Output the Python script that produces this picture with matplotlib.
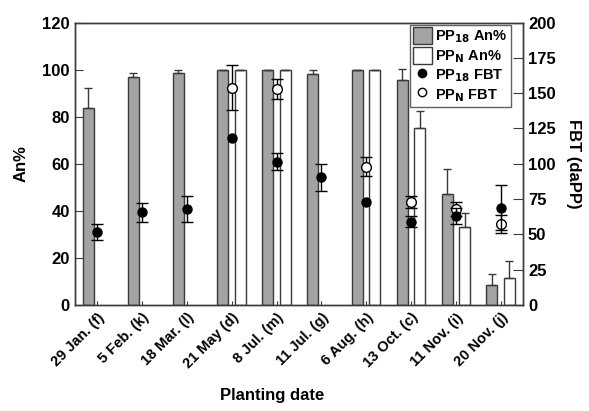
import numpy as np
import matplotlib
matplotlib.use("Agg")
import matplotlib.pyplot as plt
from matplotlib.lines import Line2D
from matplotlib.patches import Patch

plt.rcParams['font.family'] = ['Liberation Sans', 'DejaVu Sans']
plt.rcParams['font.weight'] = 'bold'

# Planting dates
dates = ["29 Jan. (f)", "5 Feb. (k)", "18 Mar. (l)", "21 May (d)", "8 Jul. (m)",
         "11 Jul. (g)", "6 Aug. (h)", "13 Oct. (c)", "11 Nov. (i)", "20 Nov. (j)"]

# An% (left axis)
pp18_an = [83.7, 96.9, 98.5, 100, 100, 98.2, 100, 95.7, 47.2, 8.5]
pp18_an_err = [8.3, 1.8, 1.5, 0, 0, 1.8, 0, 4.7, 10.5, 4.5]
ppn_an = [np.nan, np.nan, np.nan, 100, 100, np.nan, 100, 75.2, 33.0, 11.6]
ppn_an_err = [np.nan, np.nan, np.nan, 0, 0, np.nan, 0, 7.3, 6.0, 7.1]

# FBT (daPP, right axis)
pp18_fbt = [51.5, 65.7, 68.0, 118.5, 101.5, 90.5, 72.7, 59.0, 63.0, 69.0]
pp18_fbt_err = [5.7, 6.7, 9.0, np.nan, 6.0, 9.5, np.nan, 4.0, 5.5, 16.0]
ppn_fbt = [np.nan, np.nan, np.nan, 154.0, 152.8, np.nan, 98.0, 73.0, 68.2, 57.2]
ppn_fbt_err = [np.nan, np.nan, np.nan, 15.7, 7.0, np.nan, 6.5, 4.0, 5.0, 6.5]

x = np.arange(len(dates))
w = 0.245
off = 0.195

fig = plt.figure(figsize=(5.89, 4.11), dpi=100)
ax = fig.add_axes([0.127, 0.258, 0.761, 0.687])
ax2 = ax.twinx()

edge = '#3a3a3a'
ax.bar(x - off, pp18_an, w, color='#a3a3a3', edgecolor=edge, linewidth=1.0,
       yerr=[np.zeros(len(x)), pp18_an_err], capsize=3,
       error_kw=dict(ecolor=edge, elinewidth=1.0, capthick=1.0), zorder=2)
ax.bar(x + off, ppn_an, w, color='white', edgecolor=edge, linewidth=1.0,
       yerr=[np.zeros(len(x)), ppn_an_err], capsize=3,
       error_kw=dict(ecolor=edge, elinewidth=1.0, capthick=1.0), zorder=2)

ax2.errorbar(x, pp18_fbt, yerr=pp18_fbt_err, fmt='o', color='black', ms=6.5,
             ecolor='black', elinewidth=1.0, capsize=4, capthick=1.0, zorder=4)
ax2.errorbar(x, ppn_fbt, yerr=ppn_fbt_err, fmt='o', mfc='white', mec='black', ms=7,
             mew=1.0, ecolor='black', elinewidth=1.0, capsize=4, capthick=1.0, zorder=3)

ax.set_xlim(-0.5, 9.5)
ax.set_ylim(0, 120)
ax2.set_ylim(0, 200)
ax.set_yticks(np.arange(0, 121, 20))
ax2.set_yticks(np.arange(0, 201, 25))

ax.set_xticks(x)
ax.set_xticklabels(dates, rotation=45, ha='right', rotation_mode='anchor', fontsize=10.5)
ax.tick_params(axis='x', direction='in', length=3, color=edge, pad=4)
ax.tick_params(axis='y', direction='in', length=6, color=edge, labelsize=12)
ax2.tick_params(axis='y', direction='in', length=7, color=edge, labelsize=12)

for a in (ax, ax2):
    for s in a.spines.values():
        s.set_color(edge)
        s.set_linewidth(1.0)

ax.set_ylabel("An%", fontsize=12, fontweight='bold', labelpad=10)
ax2.set_ylabel("FBT (daPP)", fontsize=12, fontweight='bold', rotation=270, labelpad=18)
ax.set_xlabel("Planting date", fontsize=12, fontweight='bold')
ax.xaxis.set_label_coords(0.44, -0.295)

handles = [Patch(facecolor='#a3a3a3', edgecolor=edge),
           Patch(facecolor='white', edgecolor=edge),
           Line2D([], [], marker='o', color='black', ls='none', ms=6),
           Line2D([], [], marker='o', mfc='white', mec='black', ls='none', ms=6)]
labels = ["PP$_\\mathbf{18}$ An%", "PP$_\\mathbf{N}$ An%", "PP$_\\mathbf{18}$ FBT", "PP$_\\mathbf{N}$ FBT"]
leg = ax2.legend(handles, labels, loc='upper right', bbox_to_anchor=(0.973, 0.993),
                 fontsize=10.5, frameon=True,
                 fancybox=False, edgecolor=edge, handlelength=1.3, handleheight=1.4,
                 handletextpad=0.25, labelspacing=0.1, borderpad=0.2,
                 borderaxespad=0.0)
leg.get_frame().set_linewidth(1.0)
leg.set_zorder(10)

fig.savefig("out.png", dpi=100)
